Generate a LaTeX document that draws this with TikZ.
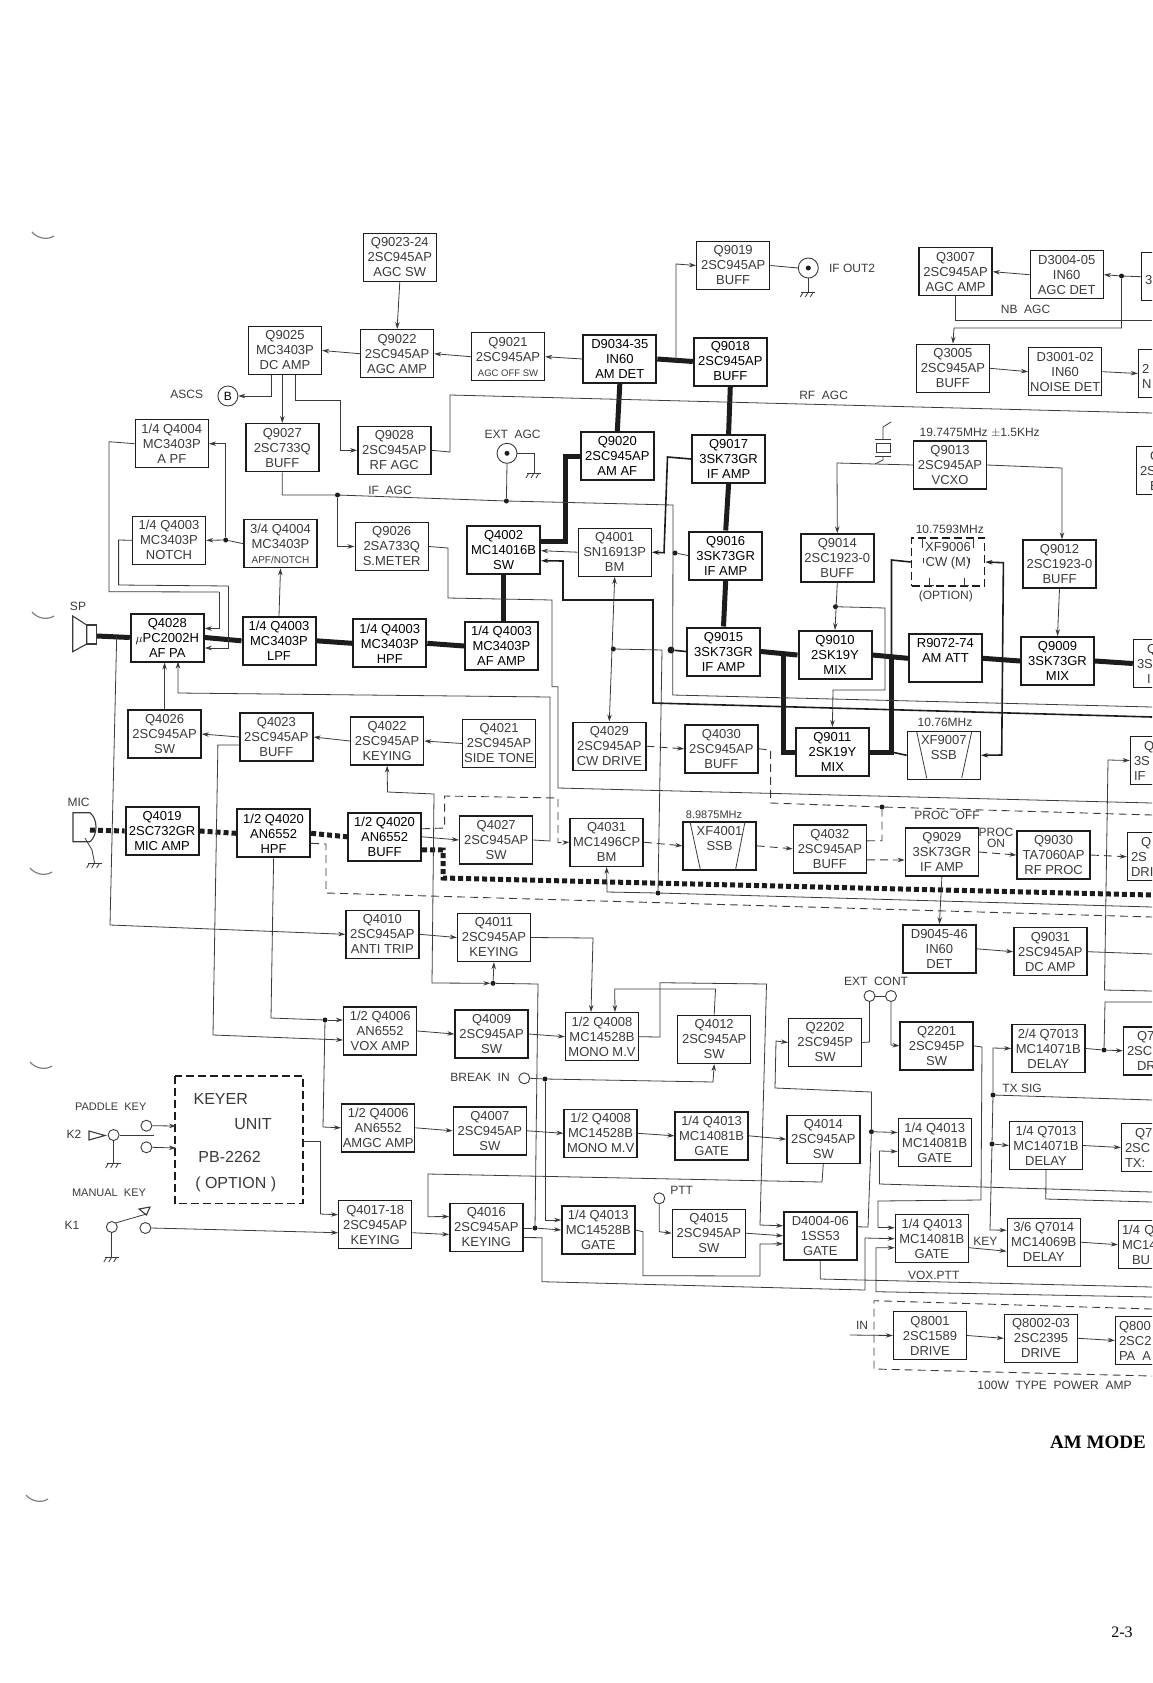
\documentclass[tikz,border=0pt]{standalone}
\usepackage{fontspec}
\setmainfont{Liberation Sans}
\newfontfamily\serifbold{Liberation Serif}
\usepackage{xcolor}
\definecolor{schink}{RGB}{58,58,58}
\definecolor{schdark}{RGB}{28,28,28}
\usetikzlibrary{arrows.meta, positioning, calc}
\tikzset{
  block/.style={draw=schdark, line width=1.4pt, minimum width=73, minimum height=48, inner sep=0pt,
                align=center, text=schink, font=\fontsize{13}{15}\selectfont},
  hotblock/.style={block, line width=2pt, text=black},
  cutblock/.style={block, align=left, text width=66, inner xsep=3.5pt},
  optblock/.style={block, dashed, dash pattern=on 8pt off 4pt, line width=1.6pt},
  sig/.style={draw=schink, line width=0.8pt},
  sigm/.style={draw=schdark, line width=1.6pt},
  dsig/.style={draw=schink, line width=0.9pt, dash pattern=on 8pt off 5pt},
  rxbus/.style={draw=schdark, line width=5pt},
  txbus/.style={draw=schdark, line width=5pt, dash pattern=on 5pt off 3pt},
  arr/.style={-{Stealth[length=7pt,width=4.5pt]}},
  arrb/.style={{Stealth[length=7pt,width=4.5pt]}-{Stealth[length=7pt,width=4.5pt]}},
  dot/.style={circle, fill=schdark, inner sep=0pt, minimum size=5},
  term/.style={circle, draw=schink, line width=0.9pt, inner sep=0pt, minimum size=11},
  lbl/.style={text=schink, inner sep=0pt, font=\fontsize{12}{14}\selectfont},
  gnd/.pic={\draw[sig] (-7,0) -- (7,0);
            \draw[sig] (-5,0) -- (-8,5) (0,0) -- (-3,5) (5,0) -- (2,5);}
}
\begin{document}
\begin{tikzpicture}[x=1pt,y=-1pt]
  \useasboundingbox (0,0) rectangle (1152,1683);
  \clip (0,0) rectangle (1152,1683);

  % Free ends on the sheet edge
  \coordinate (eNB) at (1152,320);
  \coordinate (eRF) at (1152,413);
  \coordinate (eIF) at (1152,707);
  \coordinate (eRX) at (1152,717);
  \coordinate (eSM) at (1152,803);
  \coordinate (ePO) at (1152,815);
  \coordinate (eTX) at (1152,895);
  \coordinate (eBM) at (1152,907);
  \coordinate (eHP) at (1152,917);
  \coordinate (eQ9) at (1152,954);
  \coordinate (e3S) at (1152,991);
  \coordinate (eQ7) at (1152,1002);
  \coordinate (eTS) at (1152,1100);
  \coordinate (eG2) at (1152,1192);
  \coordinate (eQ1) at (1152,1202);
  \coordinate (eVX) at (1152,1287);
  \coordinate (eG3) at (1152,1297);
  \coordinate (inpa) at (850,1335);

  % AGC row
  \node[block] (q9023) at (399.8,257.2) {Q9023-24\\2SC945AP\\AGC SW};
  \node[block] (q9025) at (285,350.5) {Q9025\\MC3403P\\DC AMP};
  \node[block] (q9022) at (397.1,353.7) {Q9022\\2SC945AP\\AGC AMP};
  \node[block] (q9021) at (508,356.7) {Q9021\\2SC945AP\\{\fontsize{9.5}{15}\selectfont AGC OFF SW}};
  \node[hotblock] (d9034) at (619.8,359) {D9034-35\\IN60\\AM DET};
  \node[hotblock] (q9018) at (730.3,361.5) {Q9018\\2SC945AP\\BUFF};
  \node[block] (q9019) at (733.2,265.5) {Q9019\\2SC945AP\\BUFF};
  \node[block] (q3007) at (955.6,271.7) {Q3007\\2SC945AP\\AGC AMP};
  \node[block] (d3004) at (1066.7,274.7) {D3004-05\\IN60\\AGC DET};
  \node[cutblock] (r3009) at (1178,276.7) {\\3\\};
  \node[block] (q3005) at (952.9,368.3) {Q3005\\2SC945AP\\BUFF};
  \node[block] (d3001) at (1065.2,371.7) {D3001-02\\IN60\\NOISE DET};
  \node[cutblock] (r3001) at (1175,373.5) {\\2\\N};

  % IF AGC row
  \node[block] (q4004a) at (171.8,443.7) {1/4 Q4004\\MC3403P\\A PF};
  \node[block] (q9027) at (282.3,447.7) {Q9027\\2SC733Q\\BUFF};
  \node[block] (q9028) at (394.3,450.3) {Q9028\\2SC945AP\\RF AGC};
  \node[hotblock] (q9020) at (617.3,456) {Q9020\\2SC945AP\\AM AF};
  \node[hotblock] (q9017) at (728.6,459) {Q9017\\3SK73GR\\IF AMP};
  \node[block] (q9013) at (950,465) {Q9013\\2SC945AP\\VCXO};
  \node[cutblock] (r9013) at (1173,470.5) {\hspace{10pt}Q\\2S\\\hspace{10pt}E};

  % Notch and S meter row
  \node[block] (q4003n) at (169,540.3) {1/4 Q4003\\MC3403P\\NOTCH};
  \node[block] (q4004b) at (280.5,543.7) {3/4 Q4004\\MC3403P\\{\fontsize{10}{15}\selectfont APF/NOTCH}};
  \node[block] (q9026) at (391.7,546.5) {Q9026\\2SA733Q\\S.METER};
  \node[hotblock] (q4002) at (503.6,549.7) {Q4002\\MC14016B\\SW};
  \node[block] (q4001) at (614.7,552.2) {Q4001\\SN16913P\\BM};
  \node[hotblock] (q9016) at (725.7,555.5) {Q9016\\3SK73GR\\IF AMP};
  \node[block] (q9014) at (837.3,558) {Q9014\\2SC1923-0\\BUFF};
  \node[optblock] (xf9006) at (948,562) {XF9006\\CW (M)\\};
  \node[block] (q9012) at (1059.5,564) {Q9012\\2SC1923-0\\BUFF};

  % Main audio and IF chain
  \node[hotblock] (q4028) at (167.3,637.5) {Q4028\\$\mu$PC2002H\\AF PA};
  \node[hotblock] (q4003l) at (279,640.8) {1/4 Q4003\\MC3403P\\LPF};
  \node[hotblock] (q4003h) at (389.8,643.3) {1/4 Q4003\\MC3403P\\HPF};
  \node[hotblock] (q4003a) at (501.4,646) {1/4 Q4003\\MC3403P\\AF AMP};
  \node[hotblock] (q9015) at (723.5,651.5) {Q9015\\3SK73GR\\IF AMP};
  \node[hotblock] (q9010) at (835,655) {Q9010\\2SK19Y\\MIX};
  \node[hotblock] (r9072) at (945.4,658.3) {R9072-74\\AM ATT\\};
  \node[hotblock] (q9009) at (1057.5,661) {Q9009\\3SK73GR\\MIX};
  \node[cutblock] (r9009) at (1170,663.5) {\hspace{10pt}Q\\3S\\\hspace{10pt}I};

  % Side tone row
  \node[block] (q4026) at (164.6,734) {Q4026\\2SC945AP\\SW};
  \node[block] (q4023) at (276.4,737) {Q4023\\2SC945AP\\BUFF};
  \node[block] (q4022) at (387.1,741) {Q4022\\2SC945AP\\KEYING};
  \node[block] (q4021) at (499.1,743.5) {Q4021\\2SC945AP\\SIDE TONE};
  \node[block] (q4029) at (609.3,746.2) {Q4029\\2SC945AP\\CW DRIVE};
  \node[block] (q4030) at (721.4,748.8) {Q4030\\2SC945AP\\BUFF};
  \node[hotblock] (q9011) at (832.4,752) {Q9011\\2SK19Y\\MIX};
  \node[block] (xf9007) at (943.8,755.3) {XF9007\\SSB\\};
  \node[cutblock] (r9011) at (1167,760.5) {\hspace{10pt}Q\\3S\\IF};

  % Mic row
  \node[hotblock] (q4019) at (162.1,831) {Q4019\\2SC732GR\\MIC AMP};
  \node[hotblock] (q4020h) at (273.6,833.3) {1/2 Q4020\\AN6552\\HPF};
  \node[hotblock] (q4020b) at (384.6,836.8) {1/2 Q4020\\AN6552\\BUFF};
  \node[block] (q4027) at (496.2,840) {Q4027\\2SC945AP\\SW};
  \node[block] (q4031) at (606.6,842.2) {Q4031\\MC1496CP\\BM};
  \node[block] (xf4001) at (719.5,845.8) {XF4001\\SSB\\};
  \node[block] (q4032) at (829.9,848.8) {Q4032\\2SC945AP\\BUFF};
  \node[block] (q9029) at (941.9,852) {Q9029\\3SK73GR\\IF AMP};
  \node[block] (q9030) at (1053.6,855) {Q9030\\TA7060AP\\RF PROC};
  \node[cutblock] (r9030) at (1164,856.7) {\hspace{10pt}Q\\2S\\DRI};

  % Anti trip row
  \node[block] (q4010) at (382.3,934.3) {Q4010\\2SC945AP\\ANTI TRIP};
  \node[block] (q4011) at (494,937.5) {Q4011\\2SC945AP\\KEYING};
  \node[block] (d9045) at (939.4,948.8) {D9045-46\\IN60\\DET};
  \node[block] (q9031) at (1050.3,951.7) {Q9031\\2SC945AP\\DC AMP};

  % VOX row
  \node[block] (q4006v) at (380.2,1031) {1/2 Q4006\\AN6552\\VOX AMP};
  \node[block] (q4009) at (491.6,1034) {Q4009\\2SC945AP\\SW};
  \node[block] (q4008a) at (602,1036.7) {1/2 Q4008\\MC14528B\\MONO M.V};
  \node[block] (q4012) at (714.2,1039.3) {Q4012\\2SC945AP\\SW};
  \node[block] (q2202) at (825.2,1042.5) {Q2202\\2SC945P\\SW};
  \node[block] (q2201) at (936.6,1045.8) {Q2201\\2SC945P\\SW};
  \node[block] (q7013b) at (1048.3,1048.5) {2/4 Q7013\\MC14071B\\DELAY};
  \node[cutblock] (r7013b) at (1160,1050.8) {\hspace{10pt}Q70\\2SC\\\hspace{10pt}DR};

  % AMGC row
  \node[block] (q4006m) at (378.2,1127.8) {1/2 Q4006\\AN6552\\AMGC AMP};
  \node[block] (q4007) at (489.8,1130.8) {Q4007\\2SC945AP\\SW};
  \node[block] (q4008b) at (600.6,1133.3) {1/2 Q4008\\MC14528B\\MONO M.V};
  \node[block] (q4013a) at (711.6,1135.8) {1/4 Q4013\\MC14081B\\GATE};
  \node[block] (q4014) at (823.3,1139.2) {Q4014\\2SC945AP\\SW};
  \node[block] (q4013b) at (934.7,1142.5) {1/4 Q4013\\MC14081B\\GATE};
  \node[block] (q7013a) at (1046,1145.5) {1/4 Q7013\\MC14071B\\DELAY};
  \node[cutblock] (r7013a) at (1158,1147.5) {\hspace{10pt}Q7\\2SC\\TX:};

  % Keying row
  \node[block] (q4017) at (375.2,1224.7) {Q4017-18\\2SC945AP\\KEYING};
  \node[block] (q4016) at (486.3,1227.5) {Q4016\\2SC945AP\\KEYING};
  \node[block] (q4013m) at (598.3,1230) {1/4 Q4013\\MC14528B\\GATE};
  \node[block] (q4015) at (708.9,1233.2) {Q4015\\2SC945AP\\SW};
  \node[block] (d4004) at (820.3,1235.8) {D4004-06\\1SS53\\GATE};
  \node[block] (q4013c) at (931.9,1238.7) {1/4 Q4013\\MC14081B\\GATE};
  \node[block] (q7014) at (1043.7,1242.2) {3/6 Q7014\\MC14069B\\DELAY};
  \node[cutblock] (r7014) at (1155,1244.7) {1/4 Q\\MC14\\\hspace{10pt}BU};

  % 100W power amp
  \node[block] (q8001) at (930,1335.5) {Q8001\\2SC1589\\DRIVE};
  \node[block] (q8002) at (1041,1338.3) {Q8002-03\\2SC2395\\DRIVE};
  \node[cutblock] (r8004) at (1152,1340.5) {Q800\\2SC2\\PA\hspace{7pt}A};
  \draw[dsig] (1152,1309) -- (874,1300.7) -- (874,1369) -- (1152,1376);
  \node[lbl] (t100w) at (1054.5,1385) {100W\ \ TYPE\ \ POWER\ \ AMP};

  % Keyer unit
  \draw[optblock, draw=schdark] (175,1075.7) rectangle (302.9,1203.3);
  \coordinate (kyin1) at (176,1126);
  \coordinate (kyin2) at (176,1148);
  \coordinate (kyout) at (303,1141);
  \node[lbl, font=\fontsize{16}{18}\selectfont] (tkey) at (220.7,1099) {KEYER};
  \node[lbl, font=\fontsize{16}{18}\selectfont] (tuni) at (253,1124) {UNIT};
  \node[lbl, font=\fontsize{16}{18}\selectfont] (tpb) at (229.6,1157) {PB-2262};
  \node[lbl, font=\fontsize{16}{18}\selectfont] (topt) at (235.7,1184) {( OPTION )};

  % Labels
  \node[lbl] (tnb) at (1025.5,309) {NB\ \ AGC};
  \node[lbl] (trf) at (823.6,395) {RF\ \ AGC};
  \node[lbl] (tif) at (390,490) {IF\ \ AGC};
  \node[lbl] (text) at (512.5,434) {EXT\ \ AGC};
  \node[lbl] (tascs) at (186.8,394) {ASCS};
  \node[lbl] (tout) at (852,268) {IF OUT2};
  \node[lbl] (tvcx) at (979.7,432.7) {19.7475MHz $\pm$1.5KHz};
  \node[lbl] (t107) at (949.8,529.3) {10.7593MHz};
  \node[lbl] (topn) at (945.8,596) {(OPTION)};
  \node[lbl] (t1076) at (945,722.7) {10.76MHz};
  \node[lbl, font=\fontsize{11}{13}\selectfont] (t898) at (714,814.3) {8.9875MHz};
  \node[lbl] (tpof) at (947,815.7) {PROC\ \ OFF};
  \node[lbl, align=center, font=\fontsize{12}{11}\selectfont] (tpon) at (996,838) {PROC\\ON};
  \node[lbl] (tcon) at (876,981.7) {EXT\ \ CONT};
  \node[lbl] (tbrk) at (480,1077) {BREAK\ \ IN};
  \node[lbl] (tsig) at (1022,1088) {TX SIG};
  \node[lbl] (tptt) at (681.6,1190.7) {PTT};
  \node[lbl] (tkk) at (985.4,1241.7) {KEY};
  \node[lbl] (tvox) at (933.7,1275) {VOX.PTT};
  \node[lbl] (tin) at (862,1325) {IN};
  \node[lbl] (tsp) at (78,606) {SP};
  \node[lbl] (tmic) at (78.6,802) {MIC};
  \node[lbl, font=\fontsize{11}{13}\selectfont] (tpad) at (110.7,1106.7) {PADDLE\ \ KEY};
  \node[lbl] (tk2) at (74,1134) {K2};
  \node[lbl, font=\fontsize{11}{13}\selectfont] (tman) at (109,1193) {MANUAL\ \ KEY};
  \node[lbl] (tk1) at (72,1225.7) {K1};
  \node[lbl, anchor=west, text=black, font=\serifbold\bfseries\fontsize{19}{21}\selectfont] (tmode) at (1050,1442) {AM MODE};
  \node[lbl, text=black, font=\serifbold\fontsize{16}{18}\selectfont] (tpage) at (1122,1632) {2-3};

  % Terminals and junctions
  \node[term, minimum size=20] (ascsb) at (227.9,396) {\fontsize{12}{14}\selectfont B};
  \node[term, minimum size=20] (ifout) at (808.3,268) {};
  \node[dot] (ifouti) at (808.3,268) {};
  \node[term, minimum size=20] (extagc) at (507,453.3) {};
  \node[dot] (extagci) at (507,453.3) {};
  \node[dot] (jasig) at (337.5,495) {};
  \node[dot] (jext) at (506.4,501) {};
  \node[dot] (jnotch) at (225.7,540) {};
  \node[dot] (jq9016) at (675,553) {};
  \node[dot, minimum size=7] (jq9015) at (671,650) {};
  \node[dot] (jbm) at (613.3,649) {};
  \node[dot] (jq9014) at (835.5,606.7) {};
  \node[dot] (jagc) at (1121.5,276) {};
  \node[dot] (jpof) at (882,807) {};
  \node[dot] (jbmi) at (658,893) {};
  \node[dot] (jq4011) at (493,983.3) {};
  \node[dot] (jvox) at (325,1020) {};
  \node[dot] (jbrk) at (545,1079) {};
  \node[dot] (jkey) at (535,1228) {};
  \node[dot] (jq7) at (1104,1050) {};
  \node[dot] (jtx) at (993,1095) {};
  \node[dot] (jq7a) at (992,1144) {};
  \node[dot] (jd44) at (871.4,1131.7) {};
  \node[term] (tbrkin) at (524.3,1078.3) {};
  \node[term] (tptt0) at (659.3,1198.3) {};
  \node[term] (tcon1) at (869.5,996) {};
  \node[term] (tcon2) at (891,996) {};
  \node[term] (pad1) at (146.4,1125.7) {};
  \node[term] (pad2) at (146.4,1147.3) {};
  \node[term] (padk) at (113.6,1135) {};
  \node[term] (manl) at (111.8,1227) {};
  \node[term] (manr) at (145.4,1228) {};

  % Receive bus
  \draw[rxbus] (96.7,636) -- (q4028.west);
  \draw[rxbus] (q4028.east) -- (q4003l.west);
  \draw[rxbus] (q4003l.east) -- (q4003h.west);
  \draw[rxbus] (q4003h.east) -- (q4003a.west);
  \draw[rxbus] (q4003a.north -| q4002.south) -- (q4002.south);
  \draw[rxbus] ([yshift=8pt]q4002.east) -- ++(24,0) |- ([yshift=0pt]q9020.west);
  \draw[rxbus] (q9020.north) -- (d9034.south);
  \draw[rxbus] (d9034.east) -- (q9018.west);
  \draw[rxbus] (q9018.south) -- (q9017.north);
  \draw[rxbus] (q9017.south) -- (q9016.north);
  \draw[rxbus] (q9016.south) -- (q9015.north);
  \draw[rxbus] (q9015.east) -- (q9010.west);
  \draw[rxbus] (783,653) |- (q9011.west);
  \draw[rxbus] (q9010.east) -- (r9072.west);
  \draw[rxbus] (q9011.east) -| (891.5,656.5);
  \draw[rxbus] (r9072.east) -- (q9009.west);
  \draw[rxbus] (q9009.east) -- (r9009.west);

  % Transmit audio bus
  \draw[txbus] (90,830) -- (q4019.west);
  \draw[txbus] (q4019.east) -- (q4020h.west);
  \draw[txbus] (q4020h.east) -- (q4020b.west);
  \draw[txbus] ([yshift=-13pt]q4020b.east) -- (443,850) -- (443,878) -- (eTX);

  % Medium lines
  \draw[sigm, arr] (eRX) -- (653,703) -- (653,600) -- (563,600) -- (563,561) -- ([yshift=-11pt]q4002.east);
  \draw[sigm, arr] (q9017.west) -- (667.5,457) -- (664,552.7) -- (q4001.east);
  \draw[sigm] (xf9006.west) -- (891.5,560) -- (891.5,656.5);
  \draw[sigm] (q9011.east -| 891.5,0) -- (xf9007.west);
  \draw[sigm, arrb] (xf9006.east) -- (1003.4,562.7) -- (1001.7,755) -- (xf9007.east);

  % AGC wiring
  \draw[sig, arr] (q9023.south) -- (q9022.north);
  \draw[sig, arr] (q9022.west) -- (q9025.east);
  \draw[sig, arr] (q9021.west) -- (q9022.east);
  \draw[sig, arr] (d9034.west) -- (q9021.east);
  \draw[sig, arr] ([xshift=-14pt]q9025.south) |- (ascsb.east);
  \draw[sig, arr] (q9025.south -| q9027.north) -- (q9027.north);
  \draw[sig, arr] ([xshift=10pt]q9025.south) |- (340,400) |- (q9028.west);
  \draw[sig] (q9028.east) -- (450,452) -- (450,395) -- (eRF);
  \draw[sig] (q9027.south) |- (jasig) -- (jext) -- (673,505) -- (672.7,695) -- (eIF);
  \draw[sig, arr] (jasig) |- (q9026.west);
  \draw[sig] (extagc.south) -- (jext);
  \coordinate (gndext) at (534,473);
  \draw[sig] (extagc.east) -| (gndext);
  \pic at (gndext) {gnd};
  \draw[sig] (q9026.east) -- (448,548) -- (448,598) -- (552,600) -- (552,686.7) -- (558,686.7) -- (558,788) -- (eSM);
  \draw[sig] (jq9016) -- (q9016.west);
  \draw[sigm] (jq9015) -- (q9015.west);
  \draw[sig, arr] (q9018.west -| 676,0) -- (676,264) -- (q9019.west);
  \draw[sig] (q9019.east) -- (ifout.west);
  \coordinate (gndout) at (808.3,292);
  \draw[sig] (ifout.south) -- (gndout);
  \pic at (gndout) {gnd};

  % Noise blanker wiring
  \draw[sig, arr] (d3004.west) -- (q3007.east);
  \draw[sig, arr] (jagc) -- (d3004.east);
  \draw[sig] (jagc) -- (r3009.west);
  \draw[sig, arr] (jagc) |- (954,328) -- (q3005.north);
  \draw[sig] (q3007.south) |- (eNB);
  \draw[sig, arr] (q3005.east) -- (d3001.west);
  \draw[sig, arr] (d3001.east) -- (r3001.west);

  % Notch wiring
  \draw[sig] (q4004a.west) -- (109,441.7) -- (109,591.7) -- (219,592);
  \draw[sig, arr] (219,592) |- ([yshift=9pt]q4028.east);
  \draw[sig] (q4003n.west) -- (118.6,540) -- (118.6,585) -- (228.6,586);
  \draw[sig, arr] (228.6,586) |- ([yshift=-10.5pt]q4028.east);
  \draw[sig, arr] (jnotch) |- (q4004a.east);
  \draw[sig] (q4004b.west) -- (jnotch);
  \draw[sig, arr] (jnotch) -- (q4003n.east);
  \draw[sig, arr] (q4003l.north) -- (q4004b.south);

  % Speaker and mic
  \draw[sig, line width=1.1pt] (86.7,625) -- (72.7,616) -- (72.7,651.7) -- (86.7,644) -- cycle;
  \draw[sig, line width=1.1pt] (86.7,625) rectangle (96.7,644);
  \draw[sig, line width=1.1pt] (90,812.7) -- (73,812.7) -- (73,841.7) -- (90,841.7) .. controls (98,835) and (98,819) .. (90,812.7);
  \coordinate (gndmic) at (94.6,863);
  \draw[sig] (85,838) -- (92,850) -- (gndmic);
  \pic at (gndmic) {gnd};
  \draw[sig, arr] (116.7,636) -- (110,925) -- (q4010.west);

  % Side tone wiring
  \draw[sig, arr] (q4026.north) -- (q4026.north |- q4028.south);
  \draw[sig, arr] (q4023.west) -- (q4026.east);
  \draw[sig, arr] (q4022.west) -- (q4023.east);
  \draw[sig, arr] (q4021.west) -- (q4022.east);
  \draw[sig, arr] (q4027.east) -- (550,841) -- (550,697) -- (178,693) -- (178,661.5);
  \draw[sig, arr] ([yshift=-8pt]q4023.west) -- (217.9,745) -- (213,1035) -- ([yshift=-9pt]q4006v.west);
  \draw[sig, arrb] (q4022.south) -- (387.5,792) -- (434,794) -- (432,983) -- (jq4011);
  \draw[sig, arr] (jq4011) -- (q4011.south);
  \draw[sig] (jq4011) -- (538,984) -- (535,1228);
  \draw[sig, arr] (q4020b.east) -- (q4027.west);
  \draw[dsig, arr] ([yshift=8pt]q4020b.east) -- (444.6,828) -- (444.6,796) -- (558,798) -- (558,842.7) -- (q4031.west);
  \draw[dsig] ([yshift=-10pt]q4020h.east) -- (326,844) -- (326,893) -- (eHP);

  % CW and SSB generation
  \draw[sig, arrb] (q4001.south) -- (q4029.north);
  \draw[sig] (jbm) -- (662,650) -- (jbmi);
  \draw[sig, arr] (jbmi) -- (607,892) -- (q4031.south);
  \draw[sig] (jbmi) -- (eBM);
  \draw[sig, arr] (q4001.west) -- ([yshift=-1pt]q4002.east);
  \draw[dsig, arr] (q4029.east) -- (q4030.west);
  \draw[dsig] (q4030.east) -- (770.6,750) -- (770.6,803) -- (jpof) -- (ePO);
  \draw[dsig, arr] (q4031.east) -- (xf4001.west);
  \draw[dsig, arr] (xf4001.east) -- (q4032.west);
  \draw[dsig] ([yshift=8pt]q4032.east) -- (882,840.7) -- (jpof);
  \draw[dsig, arr] ([yshift=-11pt]q4032.east) -- ([yshift=-8pt]q9029.west);
  \draw[dsig, arr] (q9029.east) -- (q9030.west);
  \draw[dsig, arr] (q9030.east) -- (r9030.west);
  \draw[sig, arr] (q9029.south) -- (d9045.north);
  \draw[sig, arr] (d9045.east) -- (q9031.west);
  \draw[sig] (q9031.east) -- (eQ9);

  % Oscillator and mixers
  \draw[sig, arr] (q9013.west) -- (837,463) -- (q9014.north);
  \draw[sig, arr] (q9013.east) -- (1062,468) -- (q9012.north -| 1062,0);
  \draw[sig, arr] (q9012.south) -- (q9009.north);
  \draw[sig, arr] (q9014.south) -- (q9010.north);
  \draw[sig, arr] (jq9014) -- (885,608) -- (885,690) -- (833,690) -- (q9011.north);
  % Crystal
  \coordinate (xtla) at (883,427);
  \coordinate (xtlb) at (883,460);
  \draw[sig] (876,443) rectangle (890,452);
  \draw[sig] (875,439) -- (891,439) (875,456) -- (891,456);
  \draw[sig] (883,439) -- (xtla) -- (891,422) (883,456) -- (xtlb) -- (875,464);

  % Filter marks
  \draw[sig] (916.7,731.7) -- (926.7,778) (971.7,731.7) -- (961.7,778);
  \draw[sig] (690,821.7) -- (700.4,870) (745,821.7) -- (735.5,870);
  \draw[sig] (922,538) -- (922,548) (973,538) -- (973,548) (923.7,558) -- (923.7,563) (969.5,558) -- (969.5,563);
  \draw[sig] (929.5,578) -- (929.5,585) (964.4,578) -- (964.4,585) (925,585) -- (934,585) (960,585) -- (969,585);

  % VOX and break in wiring
  \draw[sig] (q4020h.south) -- (271,1018) -- (jvox);
  \draw[sig, arr] (jvox) -- ([yshift=11pt]q4006v.west);
  \draw[sig, arr] (jvox) -- (323,1127) -- (q4006m.west);
  \draw[sig, arr] (q4010.east) -- (q4011.west);
  \draw[sig, arr] (q4011.east) -- (593,938) -- ([xshift=-11pt]q4008a.north);
  \draw[sig, arr] (q4006v.east) -- (q4009.west);
  \draw[sig, arr] (q4009.east) -- (q4008a.west);
  \draw[sig, arr] (q4012.north) -- (715.5,989) -- (614.7,989) -- ([xshift=13pt]q4008a.north);
  \draw[sig, arr] (q4008a.east) -- (660,1037) -- (660,982.7) -- (766.5,984) -- (760,1225) -- ([yshift=10pt]d4004.west);
  \draw[sig] (tbrkin.east) -- (jbrk);
  \draw[sig, arr] (jbrk) -- (713,1082) -- (q4012.south);
  \draw[sig, arr] (jbrk) -- (545,1220) -- ([yshift=10pt]q4013m.west);
  \draw[sig] (q4016.east |- jkey) -- (jkey);
  \draw[sig, arr] (jkey) -- (q4013m.west);

  % EXT CONT wiring
  \draw[sig] (tcon1) -- (tcon2);
  \draw[sig] (q2202.east) -- (869.5,1042) -- (tcon1.south);
  \draw[sig, arr] (tcon2.south) -- (891,1045) -- (q2201.west);
  \draw[sig] (q2201.east) -- (982,1047) -- (981,1200) -- (878,1201) -- (878,1227.7);
  \draw[sig, arr] (878,1227.7) -- ([yshift=11pt]q4013c.west);
  \draw[sig, arr] ([yshift=9pt]d4004.east) -- (868,1227) -- (jd44) -- (871.4,1092) -- (775,1088) -- (776,1041) -- (q2202.west);
  \draw[sig, arr] (jd44) -- ([yshift=10pt]q4013b.west);

  % Delay wiring
  \draw[sig, arr] (jtx) -- (993,1048) -- (q7013b.west);
  \draw[sig] (jtx) -- (jq7a);
  \draw[sig] (jtx) -- (eTS);
  \draw[sig, arr] (jq7a) -- (q7013a.west);
  \draw[sig, arr] (jq7a) -- (990,1230) -- ([yshift=12pt]q7014.west);
  \draw[sig] (q7013b.east) -- (jq7);
  \draw[sig, arr] (jq7) -- (r7013b.west);
  \draw[sig] (jq7) -- (1105,1002) -- (eQ7);
  \draw[sig, arr] (e3S) -- (1104.5,990) -- (1108,760) -- (r9011.west);
  \draw[sig, arr] (q7013a.east) -- (r7013a.west);
  \draw[sig] (q7013a.south) -- (1045.8,1199) -- (eQ1);
  \draw[sig, arr] (eG2) -- (879.4,1184) -- (879.4,1151) -- ([yshift=-9pt]q4013b.west);

  % Keying wiring
  \draw[sig, arr] (q4006m.east) -- (q4007.west);
  \draw[sig, arr] (q4007.east) -- (q4008b.west);
  \draw[sig, arr] (q4008b.east) -- (q4013a.west);
  \draw[sig, arr] (q4013a.east) -- (q4014.west);
  \draw[sig, arr] (q4014.south) -- (822,1182) -- (428,1174) -- (428,1216.7) -- ([yshift=11pt]q4016.west);
  \draw[sig, arr] ([yshift=-8pt]q4017.east) -- ([yshift=-7pt]q4016.west);
  \draw[sig] ([yshift=-10pt]q4016.east) -- (542,1237.7) -- (542,1281.7) -- (865,1290);
  \draw[sig, arr] (865,1290) -- (865,1238) -- (q4013c.west);
  \draw[sig] (q4013m.east) -- (643,1231.7) -- (643,1275.7) -- (760,1276);
  \draw[sig, arr] (760,1276) -- (760,1244) -- ([yshift=-8pt]d4004.west);
  \draw[sig, arr] (q4015.east) -- (d4004.west);
  \draw[sig, arr] (tptt0.south) -- (659.3,1231.7) -- (q4015.west);
  \draw[sig] (d4004.south) -- (820.3,1279) -- (eVX);
  \draw[sig, arr] (eG3) -- (876,1291.7) -- (876,1247.7) -- ([yshift=-9pt]q4013c.west);
  \draw[sig, arr] ([yshift=-9pt]q4013c.east) -- ([yshift=-9pt]q7014.west);
  \draw[sig, arr] (q7014.east) -- (r7014.west);
  \draw[sig, arr] (inpa) -- (q8001.west);
  \draw[sig, arr] (q8001.east) -- (q8002.west);
  \draw[sig, arr] (q8002.east) -- (r8004.west);

  % Key jacks
  \draw[sig, arr] (pad1.east) -- (kyin1);
  \draw[sig, arr] (pad2.east) -- (kyin2);
  \draw[sig] (padk.east) -- (153.6,1135);
  \draw[sig, line width=1.1pt] (89,1131) -- (89,1140) -- (105,1135.5) -- cycle;
  \coordinate (gndpad) at (113.6,1163);
  \draw[sig] (padk.south) -- (gndpad);
  \pic at (gndpad) {gnd};
  \coordinate (gndman) at (111.8,1257);
  \draw[sig] (manl.south) -- (gndman);
  \pic at (gndman) {gnd};
  \draw[sig] (manl.north east) -- (146.4,1214);
  \draw[sig, line width=1.1pt] (139,1209) -- (150,1207) -- (146.4,1215) -- cycle;
  \draw[sig, arr] (manr.east) -- ([yshift=-8pt]q4017.west);
  \draw[sig] (kyout) -- (320,1141) -- (320,1214);
  \draw[sig, arr] (320,1214) -- ([yshift=10pt]q4017.west);

  % Punch marks
  \draw[gray, line width=1.2pt] (32,232) .. controls (38,239) and (48,240) .. (54,236);
  \draw[gray, line width=1.2pt] (32,612) .. controls (38,619) and (48,620) .. (54,616);
  \draw[gray, line width=1.2pt] (30,868) .. controls (36,875) and (46,876) .. (52,872);
  \draw[gray, line width=1.2pt] (30,1062) .. controls (36,1069) and (46,1070) .. (52,1066);
  \draw[gray, line width=1.2pt] (26,1495) .. controls (32,1502) and (42,1503) .. (48,1499);
\end{tikzpicture}
\end{document}
